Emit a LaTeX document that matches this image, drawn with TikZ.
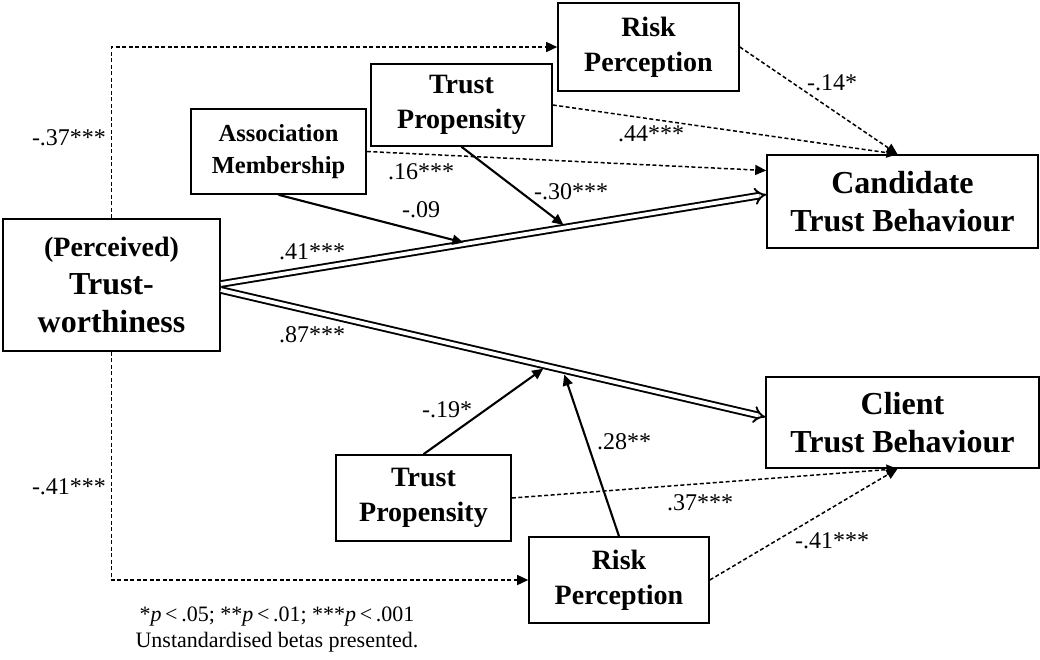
\documentclass[tikz,border=0pt]{standalone}
\usepackage{fontspec}
\setmainfont{Liberation Serif}
\usetikzlibrary{arrows.meta,calc}
\begin{document}
\begin{tikzpicture}[x=1pt,y=-1pt,
  box/.style={draw,line width=1.6pt,rectangle,inner sep=0pt,align=center},
  bigtxt/.style={font=\fontsize{32}{38}\selectfont\bfseries},
  midtxt/.style={font=\fontsize{28}{35}\selectfont\bfseries},
  smalltxt/.style={font=\fontsize{24.5}{32}\selectfont\bfseries},
  dasharrow/.style={line width=1.5pt,dash pattern=on 4pt off 2.5pt,-{Triangle[length=11pt,width=10pt]}},
  modarrow/.style={line width=2.1pt,-{Triangle[length=11pt,width=10pt]}},
  mainarrow/.style={double,line width=1.9pt,double distance=3.8pt,-{Implies}},
  coef/.style={inner sep=0pt,font=\fontsize{24}{28}\selectfont}
]
\useasboundingbox (0,0) rectangle (1040,659);

% constructs
\node[box,bigtxt,minimum width=217pt,minimum height=132pt] (tw) at (111.5,285)
  {{\fontsize{28}{40}\selectfont (Perceived)}\\Trust-\\worthiness};
\node[box,bigtxt,minimum width=271pt,minimum height=93pt] (cand) at (902.5,201.5)
  {Candidate\\Trust Behaviour};
\node[box,bigtxt,minimum width=273pt,minimum height=91pt] (client) at (902.5,422.5)
  {Client\\Trust Behaviour};
\node[box,midtxt,minimum width=181pt,minimum height=88pt] (rp1) at (648.5,47)
  {Risk\\Perception};
\node[box,midtxt,minimum width=181pt,minimum height=82pt] (tp1) at (461.5,105)
  {Trust\\Propensity};
\node[box,smalltxt,minimum width=175pt,minimum height=85pt] (assoc) at (278.5,151.5)
  {Association\\Membership};
\node[box,midtxt,minimum width=175pt,minimum height=86pt] (tp2) at (423.5,498)
  {Trust\\Propensity};
\node[box,midtxt,minimum width=180pt,minimum height=86pt] (rp2) at (619,580)
  {Risk\\Perception};

% end points of the main paths
\coordinate (twA) at ([yshift=1pt]tw.east);
\coordinate (twB) at ([yshift=-5pt]tw.east);
\coordinate (candA) at ([yshift=7pt]cand.west);
\coordinate (clientA) at ([yshift=5.5pt]client.west);
\coordinate (candTop) at ([xshift=-5pt]cand.north);
\coordinate (candSide) at ([yshift=31pt]cand.west);
\coordinate (clientBot) at ([xshift=-5pt]client.south);

% main effects
\draw[mainarrow] (twA) -- (candA);
\draw[mainarrow] (twB) -- (clientA);

% moderation points on the main paths
\coordinate (m1) at ($(twA)!0.452!(candA)$);
\coordinate (m2) at ($(twA)!0.634!(candA)$);
\coordinate (m3) at ($(twB)!0.599!(clientA)$);
\coordinate (m4) at ($(twB)!0.628!(clientA)$);

\draw[modarrow,shorten >=4pt] (assoc.south) -- (m1);
\draw[modarrow,shorten >=4pt] (tp1.south) -- (m2);
\draw[modarrow,shorten >=4.5pt] (tp2.north) -- (m3);
\draw[modarrow,shorten >=5pt] (rp2.north) -- (m4);

% direct (dashed) paths
\draw[dasharrow] (tw.north) |- (rp1.west);
\draw[dasharrow] (tw.south) |- (rp2.west);
\draw[dasharrow] (rp1.east) -- (candTop);
\draw[dasharrow] (tp1.east) -- (candTop);
\draw[dasharrow] (assoc.east) -- (candSide);
\draw[dasharrow] (tp2.east) -- (clientBot);
\draw[dasharrow] (rp2.east) -- (clientBot);

% coefficients
\node[coef] (c1) at (69,138) {-.37***};
\node[coef] (c2) at (69,487) {-.41***};
\node[coef] (c3) at (832,83) {-.14*};
\node[coef] (c4) at (651,134) {.44***};
\node[coef] (c5) at (421,172) {.16***};
\node[coef] (c6) at (421,210) {-.09};
\node[coef] (c7) at (312,252) {.41***};
\node[coef] (c8) at (571,192) {-.30***};
\node[coef] (c9) at (312,335) {.87***};
\node[coef] (c10) at (447,410) {-.19*};
\node[coef] (c11) at (624,442) {.28**};
\node[coef] (c12) at (700,503) {.37***};
\node[coef] (c13) at (832,541) {-.41***};

% note
\node[inner sep=0pt,font=\fontsize{22}{26}\selectfont,align=center] (note) at (277,630)
  {*\textit{p}\,<\,.05; **\textit{p}\,<\,.01; ***\textit{p}\,<\,.001\\Unstandardised betas presented.};
\end{tikzpicture}
\end{document}
